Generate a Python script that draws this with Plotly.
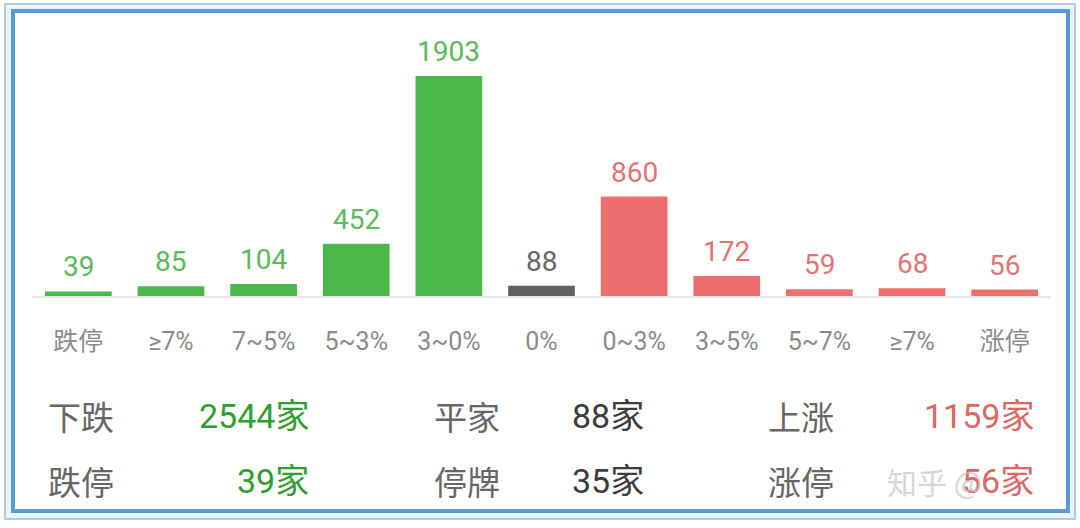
import plotly.graph_objects as go

# 涨跌分布
categories = ["跌停", "≥7%", "7~5%", "5~3%", "3~0%", "0%", "0~3%", "3~5%", "5~7%", "≥7%", "涨停"]
counts = [39, 85, 104, 452, 1903, 88, 860, 172, 59, 68, 56]
direction = ["down"] * 5 + ["flat"] + ["up"] * 5

# 底部统计
stat_labels = [["下跌", "平家", "上涨"], ["跌停", "停牌", "涨停"]]
stat_values = [["2544家", "88家", "1159家"], ["39家", "35家", "56家"]]
stat_kind = [["down", "flat", "up"], ["down", "flat", "up"]]

W, H = 1080, 528
L, R, T, B = 32, 29, 20, 232
PW, PH = W - L - R, H - T - B

bar_col = {"down": "#4cb84a", "flat": "#616161", "up": "#ee6e6e"}
lab_col = {"down": "#5cb85c", "flat": "#666666", "up": "#e57373"}
stat_col = {"down": "#2e9e2e", "flat": "#3c3c3c", "up": "#e06666"}
FONT = "Roboto, 'Noto Sans CJK SC', sans-serif"
CJK = "'Noto Sans CJK SC', sans-serif"


def px_x(x):
    return (x - L) / PW


def px_y(y):
    return (H - B - y) / PH


xs = list(range(len(categories)))

fig = go.Figure(go.Bar(
    x=xs, y=counts, width=0.72,
    marker=dict(color=[bar_col[d] for d in direction], line=dict(width=0)),
    hoverinfo="skip",
))

annotations = []
for i, v in enumerate(counts):
    annotations.append(dict(
        x=i, y=v, xref="x", yref="y", text=str(v), showarrow=False,
        yanchor="bottom", yshift=6,
        font=dict(family=FONT, size=28, color=lab_col[direction[i]]),
    ))

row_y = [416, 481]
label_x = [46, 432, 766]
for r in range(2):
    for c in range(3):
        annotations.append(dict(
            x=px_x(label_x[c]), y=px_y(row_y[r]), xref="paper", yref="paper",
            text=stat_labels[r][c], showarrow=False, xanchor="left", yanchor="middle",
            font=dict(family=CJK, size=33, color="#666666"),
        ))
        if c == 1:
            vx, anchor = 570, "left"
        else:
            vx, anchor = (311 if c == 0 else 1036), "right"
        annotations.append(dict(
            x=px_x(vx), y=px_y(row_y[r]), xref="paper", yref="paper",
            text=stat_values[r][c], showarrow=False, xanchor=anchor, yanchor="middle",
            font=dict(family=FONT, size=34, color=stat_col[stat_kind[r][c]]),
        ))

# 水印
annotations.append(dict(
    x=px_x(885), y=px_y(481), xref="paper", yref="paper", text="知乎 @",
    showarrow=False, xanchor="left", yanchor="middle", opacity=0.75,
    font=dict(family=CJK, size=30, color="#c8c8c8"),
))

shapes = [
    dict(type="rect", xref="paper", yref="paper",
         x0=px_x(5), x1=px_x(1075), y0=px_y(4), y1=px_y(519),
         line=dict(color="#9dbcd6", width=1.5), fillcolor="#eaf5fc", layer="below"),
    dict(type="rect", xref="paper", yref="paper",
         x0=px_x(13), x1=px_x(1068), y0=px_y(11), y1=px_y(511),
         line=dict(color="#5b9bd5", width=4), fillcolor="white", layer="below"),
]

fig.update_layout(
    width=W, height=H,
    margin=dict(l=L, r=R, t=T, b=B),
    paper_bgcolor="white", plot_bgcolor="rgba(0,0,0,0)",
    showlegend=False,
    annotations=annotations, shapes=shapes,
    xaxis=dict(
        range=[-0.5, len(categories) - 0.5],
        tickvals=xs, ticktext=categories,
        ticks="outside", ticklen=22, tickcolor="rgba(0,0,0,0)",
        tickfont=dict(family=FONT, size=25, color="#8a8a8a"),
        showgrid=False, zeroline=False,
        showline=True, linecolor="#e6e6e6", linewidth=2,
    ),
    yaxis=dict(range=[0, PH * 1903 / 220], visible=False, showgrid=False),
)

fig.write_html("out.html", config={"displayModeBar": False},
               post_script="document.body.style.margin='0';")
